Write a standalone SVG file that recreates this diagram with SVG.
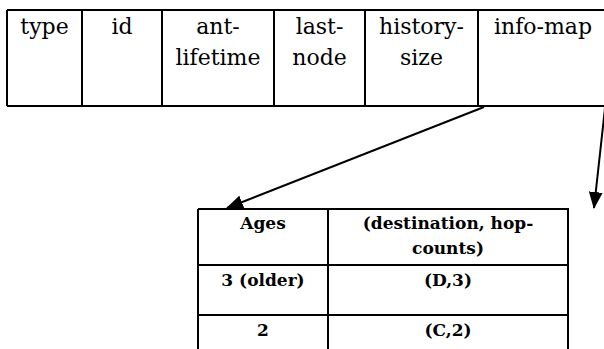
<svg xmlns="http://www.w3.org/2000/svg" width="604" height="349" viewBox="0 0 604 349">
<defs>
<style>
.ln{stroke:#000;stroke-width:2;fill:none}
.c{stroke:#000;stroke-width:2;fill:none}
</style>
<marker id="ah" markerUnits="userSpaceOnUse" markerWidth="18" markerHeight="14" refX="16" refY="7" orient="auto">
<path d="M0,0 L17,7 L0,14 z" fill="#000"/>
</marker>
</defs>
<rect width="604" height="349" fill="#fff"/>
<g id="packet" font-family="DejaVu Serif, serif" font-size="22" text-anchor="middle" fill="#000">
<path class="ln" d="M7,10 H604 M7,106 H604 M7,10 V106 M82,10 V106 M162,10 V106 M274,10 V106 M365,10 V106 M478,10 V106"/>
<g id="f-type"><text x="44.5" y="34">type</text></g>
<g id="f-id"><text x="122" y="34">id</text></g>
<g id="f-ant-lifetime"><text x="218" y="34">ant-</text><text x="218" y="65">lifetime</text></g>
<g id="f-last-node"><text x="319.5" y="34">last-</text><text x="319.5" y="65">node</text></g>
<g id="f-history-size"><text x="421.5" y="34">history-</text><text x="421.5" y="65">size</text></g>
<g id="f-info-map"><text x="543" y="34">info-map</text></g>
</g>
<g id="info-table" font-family="DejaVu Serif, serif" font-size="17" font-weight="bold" text-anchor="middle" fill="#000">
<path class="ln" d="M198,209 H568 V349 M198,209 V349 M328,209 V349 M198,265 H568 M198,315 H568"/>
<text x="263" y="229">Ages</text>
<text x="448" y="229">(destination, hop-</text>
<text x="448" y="254">counts)</text>
<text x="263" y="286">3 (older)</text>
<text x="448" y="286">(D,3)</text>
<text x="263" y="336">2</text>
<text x="448" y="336">(C,2)</text>
</g>
<g id="connectors">
<line class="c" x1="484" y1="107" x2="227" y2="208" marker-end="url(#ah)"/>
<line class="c" x1="605" y1="108" x2="594" y2="208" marker-end="url(#ah)"/>
</g>
</svg>
